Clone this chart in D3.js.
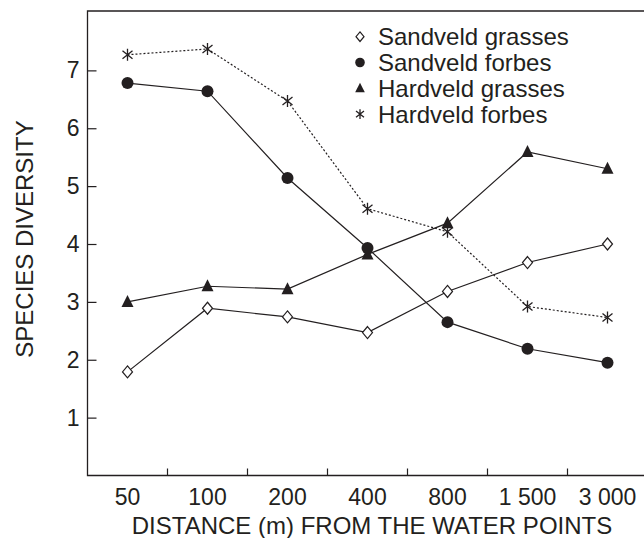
<!DOCTYPE html>
<html>
<head>
<meta charset="utf-8">
<script src="https://cdn.jsdelivr.net/npm/d3@7"></script>
<style>
  body { margin: 0; background: #fff; }
  text { font-family: "Liberation Sans", Arial, sans-serif; fill: #231f20; }
</style>
</head>
<body>
<div id="chart"></div>
<script>
// Avstånd från vattenpunkterna (kategorier)
const distances = ["50", "100", "200", "400", "800", "1 500", "3 000"];
const yTicks = [1, 2, 3, 4, 5, 6, 7];

// Serier
const sandveldGrasses = [1.79, 2.89, 2.74, 2.47, 3.18, 3.68, 4.0];
const sandveldForbes  = [6.78, 6.64, 5.14, 3.93, 2.65, 2.19, 1.95];
const hardveldGrasses = [3.0, 3.27, 3.22, 3.82, 4.36, 5.59, 5.3];
const hardveldForbes  = [7.27, 7.37, 6.47, 4.61, 4.21, 2.92, 2.73];

const seriesNames = ["Sandveld grasses", "Sandveld forbes", "Hardveld grasses", "Hardveld forbes"];

const width = 644, height = 538;
const plotLeft = 87.5, plotTop = 11, plotBottom = 475.5;

const svg = d3.select("#chart").append("svg")
  .attr("width", width)
  .attr("height", height);

const x = d3.scaleBand().domain(distances).range([plotLeft, plotLeft + 560]);
const y = d3.scaleLinear().domain([0, 8]).range([plotBottom, 12.5]);
const ink = "#231f20";

// Ram: topp, vänster, botten (ingen högerkant i bilden)
svg.append("path")
  .attr("d", `M${width},${plotTop}H${plotLeft}V${plotBottom}H${width}`)
  .attr("fill", "none").attr("stroke", ink).attr("stroke-width", 1.3);

// y-axel, streck inåt
const yAxis = svg.append("g").attr("transform", `translate(${plotLeft},0)`)
  .call(d3.axisLeft(y).tickValues(yTicks).tickSize(-9).tickPadding(8).tickFormat(d3.format("d")));
yAxis.select(".domain").remove();
yAxis.selectAll(".tick line").attr("stroke", ink).attr("stroke-width", 1.2);
yAxis.selectAll(".tick text").attr("font-size", 23).attr("font-family", null).attr("fill", ink);

// x-axel: streck mellan kategorierna
svg.append("g").selectAll("line")
  .data(distances.slice(1))
  .enter().append("line")
  .attr("x1", d => x(d)).attr("x2", d => x(d))
  .attr("y1", plotBottom).attr("y2", plotBottom - 7)
  .attr("stroke", ink).attr("stroke-width", 1.2);

svg.append("g").selectAll("text")
  .data(distances)
  .enter().append("text")
  .attr("x", d => x(d) + x.bandwidth() / 2)
  .attr("y", 505)
  .attr("text-anchor", "middle")
  .attr("font-size", 23)
  .text(d => d);

svg.append("text")
  .attr("x", 372).attr("y", 534)
  .attr("text-anchor", "middle")
  .attr("font-size", 24)
  .text("DISTANCE (m) FROM THE WATER POINTS");

svg.append("text")
  .attr("transform", "translate(33,239) rotate(-90)")
  .attr("text-anchor", "middle")
  .attr("font-size", 24)
  .text("SPECIES DIVERSITY");

// Markörer
const markers = {
  diamond: s => `M0,${-6*s}L${5*s},0L0,${6*s}L${-5*s},0Z`,
  circle: s => d3.symbol(d3.symbolCircle, Math.PI * 36 * s * s)(),
  triangle: s => `M0,${-7*s}L${6*s},${5*s}L${-6*s},${5*s}Z`,
  star: s => `M0,${-6*s}V${6*s}M${-5*s},${-4*s}L${5*s},${4*s}M${-5*s},${4*s}L${5*s},${-4*s}`
};

const series = [
  { name: seriesNames[3], values: hardveldForbes, marker: "star", dash: "2,2" },
  { name: seriesNames[2], values: hardveldGrasses, marker: "triangle", dash: null },
  { name: seriesNames[1], values: sandveldForbes, marker: "circle", dash: null },
  { name: seriesNames[0], values: sandveldGrasses, marker: "diamond", dash: null }
];

function styleMarker(sel, m) {
  if (m === "diamond") sel.attr("fill", "#fff").attr("stroke", ink).attr("stroke-width", 1.2);
  else if (m === "star") sel.attr("fill", "none").attr("stroke", ink).attr("stroke-width", 1.3);
  else sel.attr("fill", ink).attr("stroke", "none");
}

const line = d3.line()
  .x((d, i) => x(distances[i]) + x.bandwidth() / 2)
  .y(d => y(d));

series.forEach(s => {
  svg.append("path")
    .attr("d", line(s.values))
    .attr("fill", "none")
    .attr("stroke", ink)
    .attr("stroke-width", 1.2)
    .attr("stroke-dasharray", s.dash);
});

series.forEach(s => {
  svg.append("g").selectAll("path")
    .data(s.values)
    .enter().append("path")
    .attr("d", markers[s.marker](1))
    .attr("transform", (d, i) => `translate(${x(distances[i]) + x.bandwidth() / 2},${y(d)})`)
    .call(styleMarker, s.marker);
});

// Förklaring
const legendItems = [
  { name: seriesNames[0], marker: "diamond" },
  { name: seriesNames[1], marker: "circle" },
  { name: seriesNames[2], marker: "triangle" },
  { name: seriesNames[3], marker: "star" }
];
const legend = svg.append("g").selectAll("g")
  .data(legendItems)
  .enter().append("g")
  .attr("transform", (d, i) => `translate(360,${36.7 + i * 25.8})`);

legend.append("path")
  .attr("d", d => markers[d.marker](0.8))
  .each(function (d) { styleMarker(d3.select(this), d.marker); });

legend.append("text")
  .attr("x", 18).attr("y", 8.5)
  .attr("font-size", 24)
  .text(d => d.name);
</script>
</body>
</html>
